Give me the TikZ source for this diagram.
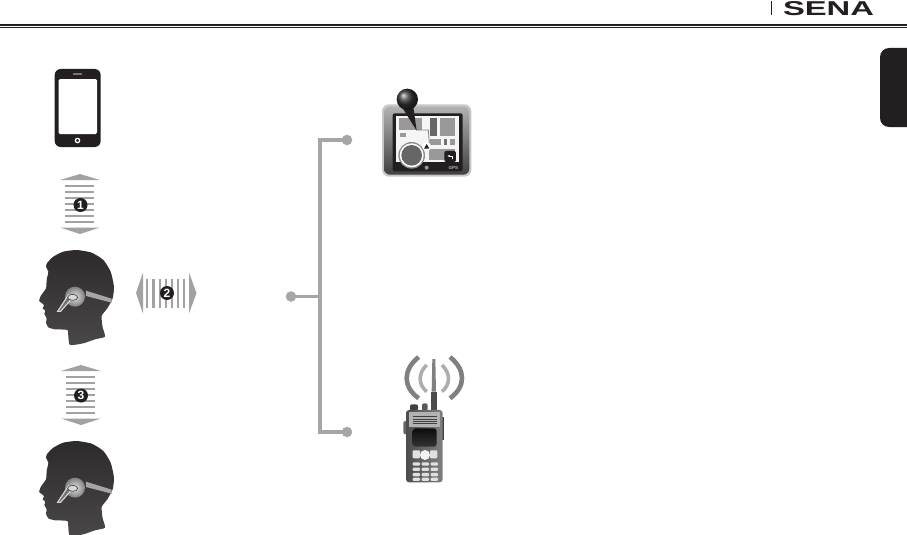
\documentclass[tikz,border=0pt]{standalone}
\usepackage{fontspec}
\setmainfont{Liberation Sans}
\usetikzlibrary{arrows.meta,positioning,calc}
\definecolor{linkgray}{HTML}{A7A5A6}
\definecolor{stripegray}{HTML}{A3A1A2}
\definecolor{inkblack}{HTML}{231F20}
\tikzset{
	pics/headicon/.style={code={
		\begin{scope}[x=.3333pt,y=-.3333pt]
			\shade[top color=inkblack!95, bottom color=inkblack!82] plot[smooth cycle, tension=.35] coordinates {(82,68) (100,50) (130,35) (170,30) (215,38) (250,60) (272,95) (282,140) (278,175) (262,205) (245,228) (248,262) (255,290) (225,298) (190,310) (150,315) (145,290) (142,270) (105,268) (85,262) (78,248) (80,235) (73,222) (76,212) (68,205) (72,195) (58,183) (62,168) (78,145) (80,120) (85,95) (78,80)};
			\fill[linkgray] (198,152) -- (275,176) -- (275,188) -- (198,168) -- cycle;
			\shade[inner color=white!88!black, outer color=black!50] (165,170) circle (30);
			\draw[black!15, line width=1.1pt, fill=black!55] (145,165) -- (113,214) -- (122,214) -- (150,182) -- cycle;
			\draw[black!70, line width=.7pt, fill=white!85!black] (158,172) ellipse (15 and 9);
		\end{scope}}},
	pics/vwave/.style={code={
		\fill[stripegray] (0,-31) -- (20,-25) -- (-20,-25) -- cycle;
		\fill[stripegray] (0,29) -- (20,22.5) -- (-20,22.5) -- cycle;
		\foreach \yy in {-19,-13,-7,-1,5,11,17}
			\fill[stripegray] (-15,\yy-1.2) rectangle (14,\yy+1.2);}},
	pics/hwave/.style={code={
		\fill[stripegray] (-31,0) -- (-24,-20.5) -- (-24,20.5) -- cycle;
		\fill[stripegray] (29.5,0) -- (22,-20.5) -- (22,20.5) -- cycle;
		\foreach \xx in {-20,-13.7,-7.3,-1.3,4.7,10.7,17}
			\fill[stripegray] (\xx-1.2,-14.5) rectangle (\xx+1.2,14.5);}},
	badge/.style={circle, fill=inkblack, text=white, inner sep=0pt, minimum size=14pt, font=\bfseries\fontsize{12}{12}\selectfont},
	dot/.style={circle, fill=linkgray, inner sep=0pt, minimum size=10.5pt},
	link/.style={draw=linkgray, line width=3.8pt},
	mapblock/.style={fill=black!40},
	padkey/.style={fill=black!12, rounded corners=1pt}
}
\begin{document}
\begin{tikzpicture}[x=1pt,y=-1pt]
	\useasboundingbox (0,0) rectangle (907,535);
	% page header
	\fill[inkblack] (0,23.8) rectangle (907,25.8);
	\fill[inkblack] (0,26.8) rectangle (907,27.6);
	\fill[inkblack] (771.3,1) rectangle (772.3,15.5);
	\node[inner sep=0pt, text=inkblack] (brand) at (828.5,9) {\resizebox{91pt}{14pt}{\textbf{SENA}}};
	\fill[inkblack, rounded corners=9pt] (880,48) rectangle (925,127);
	% phone
	\fill[inkblack, rounded corners=6pt] (54.7,69) rectangle (100.7,147);
	\fill[white, rounded corners=1.5pt] (58.5,79) rectangle (97,134);
	\fill[black!55] (73,73.2) rectangle (82,75);
	\draw[white, line width=1.2pt] (77.5,140.5) circle (2.2);
	% waves and heads
	\pic at (80,205) {vwave};
	\node[badge] (one) at (80.5,205) {1};
	\pic at (20,240) {headicon};
	\pic at (167,293) {hwave};
	\node[badge] (two) at (167,293) {2};
	\pic at (81,396) {vwave};
	\node[badge] (three) at (81,395.5) {3};
	\pic at (20,431) {headicon};
	% bracket
	\node[dot] (gpsdot) at (347,140) {};
	\node[dot] (headdot) at (291,296.5) {};
	\node[dot] (radiodot) at (347,432) {};
	\coordinate (tjoin) at (320,296.5);
	\draw[link] (gpsdot.center) -| (tjoin) |- (radiodot.center);
	\draw[link] (headdot.center) -- (tjoin);
	% gps unit
	\begin{scope}[shift={(370,80)},x=.3333pt,y=-.3333pt]
		\fill[black!22, rounded corners=7pt] (36,73) rectangle (304,290);
		\shade[top color=black!30, bottom color=black!75, rounded corners=6pt] (42,80) rectangle (298,284);
		\fill[inkblack, rounded corners=2pt] (68,100) rectangle (278,274);
		\fill[white!96!black] (78,108) rectangle (268,247);
		\fill[mapblock] (88,115) rectangle (155,150);
		\fill[mapblock] (90,158) rectangle (108,172);
		\fill[black!60] (180,113) rectangle (202,168);
		\fill[mapblock] (210,113) rectangle (256,168);
		\fill[mapblock] (180,178) rectangle (214,194);
		\fill[black!55] (222,178) rectangle (232,194);
		\fill[mapblock] (240,178) rectangle (256,194);
		\fill[mapblock] (178,208) rectangle (256,240);
		\draw[black!50, line width=.8pt] (140,150) -- (175,150) -- (178,190);
		\fill[black!45] (125,226) circle (40);
		\fill[white] (125,226) circle (36);
		\fill[black!60] (125,226) circle (31);
		\fill[white] (170,200) circle (13);
		\fill[inkblack] (170,192) -- (178,206) -- (162,206) -- cycle;
		\fill[inkblack, rounded corners=2pt] (223,213) rectangle (258,246);
		\draw[white, line width=.9pt, -{Stealth[length=3pt]}] (248,238) -- (248,228) -- (232,228);
		\node[text=black!30, inner sep=0pt, font=\bfseries\fontsize{4.5}{5}\selectfont] (gpslabel) at (250,263) {GPS};
		\fill[black!40] (170,263) circle (6);
		\fill[inkblack] (92,75) -- (140,152) -- (130,80) -- cycle;
		\shade[ball color=black!80] (112,58) circle (32);
	\end{scope}
	% radio
	\begin{scope}[shift={(390,345)},x=.3333pt,y=-.3333pt]
		\draw[black!50, line width=4.6pt] (86,36) .. controls (38,75) and (38,125) .. (86,160);
		\draw[black!32, line width=3.6pt] (110,60) .. controls (84,85) and (84,118) .. (110,140);
		\draw[black!50, line width=4.6pt] (180,36) .. controls (228,75) and (228,125) .. (180,160);
		\draw[black!32, line width=3.6pt] (156,60) .. controls (182,85) and (182,118) .. (156,140);
		\fill[black!50] (127,42) -- (136,42) -- (138,140) -- (125,140) -- cycle;
		\fill[black!70] (123,140) rectangle (141,197);
		\fill[black!75, rounded corners=2pt] (60,178) rectangle (84,197);
		\fill[black!65, rounded corners=2pt] (96,175) rectangle (113,197);
		\fill[black!60, rounded corners=2pt] (40,228) rectangle (50,268);
		\fill[black!75] (156,215) rectangle (163,285);
		\shade[left color=black!70, right color=black!50, rounded corners=3pt] (48,195) rectangle (158,412);
		\fill[black!30] (56,200) rectangle (150,245);
		\foreach \yy in {215,222,229,236}
			\draw[black!75, line width=.8pt] (68,\yy) -- (140,\yy);
		\shade[top color=black!95, bottom color=black!80, rounded corners=3pt] (68,250) rectangle (140,305);
		\fill[padkey] (68,316) rectangle (90,340);
		\fill[padkey] (120,316) rectangle (142,340);
		\fill[black!5] (105,330) circle (15);
		\foreach \yy in {352,368,384,398} {
			\fill[padkey] (68,\yy) rectangle (90,\yy+10);
			\fill[padkey] (95,\yy) rectangle (117,\yy+10);
			\fill[padkey] (122,\yy) rectangle (144,\yy+10);
		}
	\end{scope}
\end{tikzpicture}
\end{document}
